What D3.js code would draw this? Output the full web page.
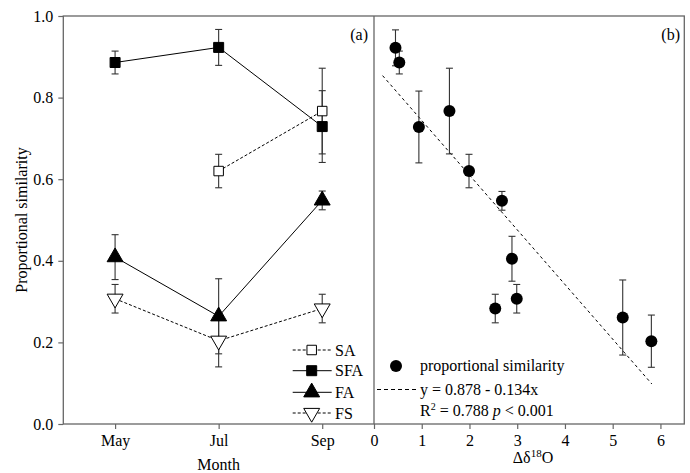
<!DOCTYPE html>
<html>
<head>
<meta charset="utf-8">
<script src="https://cdn.jsdelivr.net/npm/d3@7"></script>
<style>
  body { margin: 0; background: #fff; }
  text { font-family: "Liberation Serif", "Times New Roman", serif; fill: #000; }
</style>
</head>
<body>
<div id="chart"></div>
<script>
// panel (a): similarity by month
var months = ["May", "Jul", "Sep"];
var monthNum = [5, 7, 9];
var SA = [null, 0.620, 0.767];
var SA_err = [null, 0.041, 0.105];
var SFA = [0.886, 0.923, 0.729];
var SFA_err = [0.028, 0.044, 0.088];
var FA = [0.409, 0.264, 0.548];
var FA_err = [0.055, 0.092, 0.023];
var FS = [0.307, 0.204, 0.283];
var FS_err = [0.035, 0.064, 0.035];

// panel (b): similarity vs delta 18O
var dO18 = [0.45, 0.53, 0.94, 1.58, 1.99, 2.68, 2.89, 2.54, 2.99, 5.21, 5.81];
var simY = [0.922, 0.886, 0.728, 0.767, 0.620, 0.547, 0.405, 0.283, 0.307, 0.261, 0.203];
var simErr = [0.044, 0.028, 0.088, 0.105, 0.041, 0.023, 0.055, 0.035, 0.035, 0.092, 0.064];
var fitIntercept = 0.878, fitSlope = -0.134;
var fitRange = [0.18, 5.82];

var yTicks = [0, 0.2, 0.4, 0.6, 0.8, 1.0];
var xbTicks = [0, 1, 2, 3, 4, 5, 6];

var W = 690, H = 473;
var pLeft = 63.3, pMid = 374, pRight = 684.3, pTop = 16, pBottom = 424;
var frameColor = "#666";

var svg = d3.select("#chart").append("svg")
    .attr("width", W).attr("height", H);

var y = d3.scaleLinear().domain([0, 1]).range([pBottom, pTop]);
var xa = d3.scaleLinear().domain([4, 10]).range([pLeft, pMid]);
var xb = d3.scaleLinear().domain([0, 6.5]).range([pMid, pRight]);

// frame
svg.append("rect")
    .attr("x", pLeft).attr("y", pTop)
    .attr("width", pRight - pLeft).attr("height", pBottom - pTop)
    .attr("fill", "none").attr("stroke", frameColor).attr("stroke-width", 1.3);
svg.append("line")
    .attr("x1", pMid).attr("x2", pMid).attr("y1", pTop).attr("y2", pBottom)
    .attr("stroke", frameColor).attr("stroke-width", 1.3);

function styleAxis(g) {
  g.select(".domain").remove();
  g.selectAll(".tick line").attr("stroke", frameColor).attr("stroke-width", 1.2);
  g.selectAll(".tick text")
      .attr("font-family", "Liberation Serif")
      .attr("font-size", "16px").attr("fill", "#000");
}

// Y axis
svg.append("g")
    .attr("transform", "translate(" + pLeft + ",0)")
    .call(d3.axisLeft(y).tickValues(yTicks).tickFormat(d3.format(".1f")).tickSize(5).tickPadding(5))
    .call(styleAxis);

// X axis (a)
svg.append("g")
    .attr("transform", "translate(0," + pBottom + ")")
    .call(d3.axisBottom(xa).tickValues(monthNum)
          .tickFormat(function(d, i) { return months[i]; }).tickSize(5).tickPadding(6))
    .call(styleAxis);

// X axis (b)
svg.append("g")
    .attr("transform", "translate(0," + pBottom + ")")
    .call(d3.axisBottom(xb).tickValues(xbTicks).tickFormat(d3.format("d")).tickSize(5).tickPadding(6))
    .call(styleAxis);

// axis labels
svg.append("text")
    .attr("transform", "translate(27," + ((pTop + pBottom) / 2) + ") rotate(-90)")
    .attr("text-anchor", "middle")
    .attr("font-size", "16px")
    .text("Proportional similarity");

svg.append("text")
    .attr("x", xa(7)).attr("y", 470)
    .attr("text-anchor", "middle")
    .attr("font-size", "16px")
    .text("Month");

var dl = svg.append("text")
    .attr("x", 533).attr("y", 463)
    .attr("text-anchor", "middle")
    .attr("font-size", "16px");
dl.append("tspan").text("\u0394\u03b4");
dl.append("tspan").attr("font-size", "11px").attr("dy", "-6").text("18");
dl.append("tspan").attr("dy", "6").text("O");

svg.append("text").attr("x", 368).attr("y", 40)
    .attr("text-anchor", "end").attr("font-size", "16px").text("(a)");
svg.append("text").attr("x", 680).attr("y", 40)
    .attr("text-anchor", "end").attr("font-size", "16px").text("(b)");

// series definitions for panel (a)
var series = [
  {name: "SA",  vals: SA,  err: SA_err,  dash: "3,2", sym: d3.symbolSquare,   size: 90,  fill: "#fff", rot: 0},
  {name: "SFA", vals: SFA, err: SFA_err, dash: null,  sym: d3.symbolSquare,   size: 100, fill: "#000", rot: 0},
  {name: "FA",  vals: FA,  err: FA_err,  dash: null,  sym: d3.symbolTriangle, size: 110, fill: "#000", rot: 0},
  {name: "FS",  vals: FS,  err: FS_err,  dash: "3,2", sym: d3.symbolTriangle, size: 110, fill: "#fff", rot: 180}
];

function errBar(g, cx, cy, e, scaleY) {
  var y1 = scaleY(cy + e), y2 = scaleY(cy - e);
  g.append("line").attr("x1", cx).attr("x2", cx).attr("y1", y1).attr("y2", y2)
      .attr("stroke", "#333").attr("stroke-width", 1.1);
  [y1, y2].forEach(function(yy) {
    g.append("line").attr("x1", cx - 3.5).attr("x2", cx + 3.5).attr("y1", yy).attr("y2", yy)
        .attr("stroke", "#333").attr("stroke-width", 1.1);
  });
}

var pa = svg.append("g");
var lineGen = d3.line()
    .defined(function(d) { return d.v != null; })
    .x(function(d) { return xa(d.m); })
    .y(function(d) { return y(d.v); });

series.forEach(function(s) {
  var pts = s.vals.map(function(v, i) { return {m: monthNum[i], v: v, e: s.err[i]}; });
  // error bars
  pts.forEach(function(p) { if (p.v != null) errBar(pa, xa(p.m), p.v, p.e, y); });
  pa.append("path").datum(pts.filter(function(p) { return p.v != null; }))
      .attr("d", lineGen)
      .attr("fill", "none").attr("stroke", "#000").attr("stroke-width", 1)
      .attr("stroke-dasharray", s.dash);
});
series.forEach(function(s) {
  s.vals.forEach(function(v, i) {
    if (v == null) return;
    pa.append("path")
        .attr("d", d3.symbol().type(s.sym).size(s.size)())
        .attr("transform", "translate(" + xa(monthNum[i]) + "," + y(v) + ") rotate(" + s.rot + ")")
        .attr("fill", s.fill).attr("stroke", "#000").attr("stroke-width", 1);
  });
});

// legend (a)
var legY = [350, 370.7, 392.3, 413];
series.forEach(function(s, i) {
  var g = svg.append("g").attr("transform", "translate(0," + legY[i] + ")");
  g.append("line").attr("x1", 292.7).attr("x2", 331.7).attr("y1", 0).attr("y2", 0)
      .attr("stroke", "#000").attr("stroke-width", 1).attr("stroke-dasharray", s.dash);
  g.append("path")
      .attr("d", d3.symbol().type(s.sym).size(s.size)())
      .attr("transform", "translate(311.7,0) rotate(" + s.rot + ")")
      .attr("fill", s.fill).attr("stroke", "#000").attr("stroke-width", 1);
  g.append("text").attr("x", 335).attr("y", 5.5).attr("font-size", "16px").text(s.name);
});

// panel (b)
var pb = svg.append("g");
pb.append("line")
    .attr("x1", xb(fitRange[0])).attr("y1", y(fitIntercept + fitSlope * fitRange[0]))
    .attr("x2", xb(fitRange[1])).attr("y2", y(fitIntercept + fitSlope * fitRange[1]))
    .attr("stroke", "#000").attr("stroke-width", 1).attr("stroke-dasharray", "3,3");
dO18.forEach(function(d, i) { errBar(pb, xb(d), simY[i], simErr[i], y); });
pb.selectAll("circle.pt").data(dO18).enter().append("circle")
    .attr("class", "pt")
    .attr("cx", function(d) { return xb(d); })
    .attr("cy", function(d, i) { return y(simY[i]); })
    .attr("r", 6).attr("fill", "#000");

// legend (b)
svg.append("circle").attr("cx", 396).attr("cy", 366).attr("r", 6).attr("fill", "#000");
svg.append("text").attr("x", 420).attr("y", 371).attr("font-size", "16px").text("proportional similarity");
svg.append("line").attr("x1", 377).attr("x2", 417).attr("y1", 389.5).attr("y2", 389.5)
    .attr("stroke", "#000").attr("stroke-width", 1).attr("stroke-dasharray", "4,3");
svg.append("text").attr("x", 420).attr("y", 394.5).attr("font-size", "16px").text("y = 0.878 - 0.134x");
var r2 = svg.append("text").attr("x", 420).attr("y", 415.5).attr("font-size", "16px");
r2.append("tspan").text("R");
r2.append("tspan").attr("font-size", "10px").attr("dy", "-6").text("2");
r2.append("tspan").attr("dy", "6").text(" = 0.788 ");
r2.append("tspan").attr("font-style", "italic").text("p");
r2.append("tspan").text(" < 0.001");
</script>
</body>
</html>
